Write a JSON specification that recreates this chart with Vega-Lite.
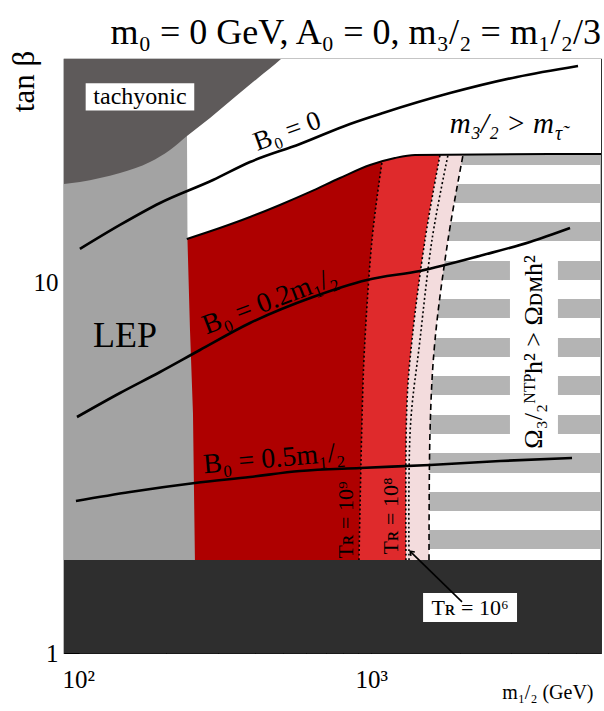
{
 "$schema": "https://vega.github.io/schema/vega-lite/v6.json",
 "width": 537, "height": 594,
 "autosize": "none",
 "padding": {"left": 64, "top": 59, "right": 3, "bottom": 58},
 "background": "white",
 "config": {"view": {"stroke": "#1a1a1a", "strokeWidth": 1.2}, "font": "Liberation Serif"},
 "title": {"text": "m₀ = 0 GeV, A₀ = 0, m₃/₂ = m₁/₂/3", "anchor": "end", "fontSize": 36, "font": "Liberation Serif", "fontWeight": "normal", "color": "black", "offset": -38, "baseline": "bottom"},
 "datasets": {
  "stripes": [
   {"x": 1300, "x2": 7000, "y": 1.910, "y2": 2.149},
   {"x": 1300, "x2": 7000, "y": 2.420, "y2": 2.723},
   {"x": 1300, "x2": 7000, "y": 3.065, "y2": 3.471},
   {"x": 1300, "x2": 2973, "y": 3.907, "y2": 4.398},
   {"x": 4335, "x2": 7000, "y": 3.907, "y2": 4.398},
   {"x": 1300, "x2": 2973, "y": 4.981, "y2": 5.607},
   {"x": 4335, "x2": 7000, "y": 4.981, "y2": 5.607},
   {"x": 1300, "x2": 2973, "y": 6.310, "y2": 7.102},
   {"x": 4335, "x2": 7000, "y": 6.310, "y2": 7.102},
   {"x": 1300, "x2": 2973, "y": 8.043, "y2": 9.053},
   {"x": 4335, "x2": 7000, "y": 8.043, "y2": 9.053},
   {"x": 1300, "x2": 2973, "y": 10.19, "y2": 11.47},
   {"x": 4335, "x2": 7000, "y": 10.19, "y2": 11.47},
   {"x": 1300, "x2": 7000, "y": 12.99, "y2": 14.62},
   {"x": 1300, "x2": 7000, "y": 16.45, "y2": 18.52},
   {"x": 1300, "x2": 7000, "y": 20.84, "y2": 23.60}
  ],
  "pink": [
   {"y": 1, "x": 80, "x2": 1574}, {"y": 1.784, "x": 80, "x2": 1574}, {"y": 3.932, "x": 80, "x2": 1586},
   {"y": 7.015, "x": 80, "x2": 1650}, {"y": 13.07, "x": 80, "x2": 1827}, {"y": 22.18, "x": 80, "x2": 2056}, {"y": 26, "x": 80, "x2": 2150}
  ],
  "medred": [
   {"y": 1, "x": 80, "x2": 1313}, {"y": 1.784, "x": 80, "x2": 1313}, {"y": 4.264, "x": 80, "x2": 1318},
   {"y": 7.015, "x": 80, "x2": 1377}, {"y": 13.07, "x": 80, "x2": 1525}, {"y": 22.18, "x": 80, "x2": 1716}, {"y": 26, "x": 80, "x2": 1800}
  ],
  "darkred": [
   {"y": 1, "x": 80, "x2": 907.8}, {"y": 1.784, "x": 80, "x2": 907.8}, {"y": 4.264, "x": 80, "x2": 929.4},
   {"y": 7.015, "x": 80, "x2": 951.2}, {"y": 13.07, "x": 80, "x2": 1005.5}, {"y": 21.23, "x": 80, "x2": 1087.7}, {"y": 26, "x": 80, "x2": 1130}
  ],
  "top": [
   {"x": 234.6, "y": 13.15}, {"x": 304, "y": 14.08}, {"x": 385.6, "y": 15.08}, {"x": 487.6, "y": 16.25},
   {"x": 617.9, "y": 17.62}, {"x": 781.9, "y": 19.22}, {"x": 990, "y": 20.84}, {"x": 1204, "y": 21.77},
   {"x": 1410, "y": 22.18}, {"x": 6100, "y": 22.32}
  ],
  "lep": [
   {"y": 1, "x": 80, "x2": 250.1}, {"y": 1.784, "x": 80, "x2": 250.1}, {"y": 4.455, "x": 80, "x2": 246.3},
   {"y": 7.464, "x": 80, "x2": 240.6}, {"y": 13.07, "x": 80, "x2": 235.9}, {"y": 24.97, "x": 80, "x2": 235}, {"y": 45, "x": 80, "x2": 235}
  ],
  "tachy": [
   {"x": 85, "y": 18.45}, {"x": 101.3, "y": 18.75}, {"x": 118.6, "y": 19.22}, {"x": 138.8, "y": 19.83},
   {"x": 175.7, "y": 21.23}, {"x": 205.6, "y": 22.88}, {"x": 235, "y": 24.97}, {"x": 281.6, "y": 27.92},
   {"x": 342.6, "y": 31.82}, {"x": 410.6, "y": 35.83}, {"x": 491.8, "y": 40.3}, {"x": 520, "y": 42}
  ],
  "dotted": [
   {"id": "9", "x": 907.8, "y": 1.784}, {"id": "9", "x": 929.4, "y": 4.264}, {"id": "9", "x": 951.2, "y": 7.015}, {"id": "9", "x": 1005.5, "y": 13.07}, {"id": "9", "x": 1087.7, "y": 21.23},
   {"id": "8", "x": 1313, "y": 1.784}, {"id": "8", "x": 1318, "y": 4.264}, {"id": "8", "x": 1377, "y": 7.015}, {"id": "8", "x": 1525, "y": 13.07}, {"id": "8", "x": 1716, "y": 22.18},
   {"id": "6", "x": 1345, "y": 1.784}, {"id": "6", "x": 1356, "y": 3.932}, {"id": "6", "x": 1466, "y": 7.015}, {"id": "6", "x": 1611, "y": 13.07}, {"id": "6", "x": 1827, "y": 22.18}
  ],
  "dashed": [
   {"x": 1574, "y": 1.784}, {"x": 1586, "y": 3.932}, {"x": 1650, "y": 7.015}, {"x": 1827, "y": 13.07}, {"x": 2056, "y": 22.18}
  ],
  "b0": [
   {"id": "a", "x": 101.3, "y": 12.36}, {"id": "a", "x": 138.8, "y": 14.35}, {"id": "a", "x": 190.1, "y": 16.45}, {"id": "a", "x": 288.3, "y": 18.98},
   {"id": "a", "x": 385.5, "y": 21.23}, {"id": "a", "x": 571, "y": 23.75}, {"id": "a", "x": 846, "y": 26.9}, {"id": "a", "x": 1096, "y": 28.8},
   {"id": "a", "x": 1856, "y": 32.6}, {"id": "a", "x": 3143, "y": 36.05}, {"id": "a", "x": 5075, "y": 38.6},
   {"id": "b", "x": 99.0, "y": 4.343}, {"id": "b", "x": 138.8, "y": 5.043}, {"id": "b", "x": 190.1, "y": 5.747}, {"id": "b", "x": 260.2, "y": 6.59},
   {"id": "b", "x": 385.5, "y": 7.795}, {"id": "b", "x": 632.4, "y": 9.166}, {"id": "b", "x": 967, "y": 10.19}, {"id": "b", "x": 1466, "y": 10.78},
   {"id": "b", "x": 2405, "y": 11.9}, {"id": "b", "x": 3480, "y": 12.91}, {"id": "b", "x": 4767, "y": 14.08},
   {"id": "c", "x": 98.2, "y": 2.575}, {"id": "c", "x": 150.2, "y": 2.723}, {"id": "c", "x": 250.1, "y": 2.88}, {"id": "c", "x": 385.5, "y": 2.99},
   {"id": "c", "x": 571, "y": 3.103}, {"id": "c", "x": 914.9, "y": 3.162}, {"id": "c", "x": 1586, "y": 3.222}, {"id": "c", "x": 2749, "y": 3.303}, {"id": "c", "x": 4842, "y": 3.365}
  ],
  "boxes": [
   {"x": 106, "x2": 248.8, "y": 29.23, "y2": 34.65},
   {"x": 1502, "x2": 3143, "y": 1.213, "y2": 1.453}
  ]
 },
 "encoding": {
  "x": {"field": "x", "type": "quantitative",
   "scale": {"type": "log", "domain": [89.4, 6080], "nice": false, "zero": false},
   "axis": {"values": [100, 200, 300, 400, 500, 600, 700, 800, 900, 1000, 2000, 3000, 4000, 5000],
    "labelExpr": "datum.value == 100 ? '10²' : datum.value == 1000 ? '10³' : ''",
    "tickSize": {"condition": {"test": "datum.value == 100 || datum.value == 1000", "value": -16}, "value": -8},
    "tickColor": "black", "tickWidth": 1, "domain": false, "grid": false,
    "labelFont": "Liberation Serif", "labelFontSize": 25, "labelColor": "black", "labelPadding": 30,
    "labelFlush": false, "labelOverlap": false, "labelBound": false,
    "title": "m₁/₂ (GeV)", "titleFont": "Liberation Serif", "titleFontSize": 20, "titleFontWeight": "normal", "titleColor": "black",
    "titleX": 529, "titleY": 45, "titleAlign": "right", "titleBaseline": "alphabetic", "titleAnchor": null}},
  "y": {"field": "y", "type": "quantitative",
   "scale": {"type": "log", "domain": [1, 40.3], "nice": false, "zero": false},
   "axis": {"values": [1, 2, 3, 4, 5, 6, 7, 8, 9, 10, 20, 30],
    "labelExpr": "datum.value == 1 ? '1' : datum.value == 10 ? '10' : ''",
    "tickSize": {"condition": {"test": "datum.value == 1 || datum.value == 10", "value": -15}, "value": -8},
    "tickColor": "black", "tickWidth": 1, "domain": false, "grid": false,
    "labelFont": "Liberation Serif", "labelFontSize": 25, "labelColor": "black", "labelPadding": 21,
    "labelFlush": false, "labelOverlap": false, "labelBound": false,
    "title": "tan β", "titleFont": "Liberation Serif", "titleFontSize": 31, "titleFontWeight": "normal", "titleColor": "black",
    "titleX": -31, "titleY": 22, "titleAngle": -90, "titleAlign": "center", "titleBaseline": "alphabetic"}}
 },
 "layer": [
  {"data": {"name": "stripes"}, "mark": {"type": "rect", "color": "#b4b4b4", "clip": true},
   "encoding": {"x2": {"field": "x2"}, "y2": {"field": "y2"}}},
  {"data": {"name": "pink"}, "mark": {"type": "area", "orient": "horizontal", "interpolate": "cardinal", "color": "#f3dcdd", "opacity": 1, "clip": true},
   "encoding": {"x2": {"field": "x2"}}},
  {"data": {"name": "medred"}, "mark": {"type": "area", "orient": "horizontal", "interpolate": "cardinal", "color": "#df2a2c", "opacity": 1, "clip": true},
   "encoding": {"x2": {"field": "x2"}}},
  {"data": {"name": "darkred"}, "mark": {"type": "area", "orient": "horizontal", "interpolate": "cardinal", "color": "#ae0000", "opacity": 1, "clip": true},
   "encoding": {"x2": {"field": "x2"}}},
  {"data": {"name": "top"}, "mark": {"type": "area", "orient": "vertical", "interpolate": "monotone", "color": "white", "opacity": 1, "clip": true},
   "encoding": {"y2": {"datum": 45}}},
  {"data": {"name": "lep"}, "mark": {"type": "area", "orient": "horizontal", "interpolate": "linear", "color": "#a3a3a3", "opacity": 1, "clip": true},
   "encoding": {"x2": {"field": "x2"}}},
  {"data": {"name": "tachy"}, "mark": {"type": "area", "orient": "vertical", "interpolate": "monotone", "color": "#5e5a5a", "opacity": 1, "clip": true},
   "encoding": {"y2": {"datum": 45}}},
  {"data": {"values": [{"x": 80, "x2": 7000, "y": 0.9, "y2": 1.784}]}, "mark": {"type": "rect", "color": "#2e2e2e", "clip": true},
   "encoding": {"x2": {"field": "x2"}, "y2": {"field": "y2"}}},
  {"data": {"name": "dotted"}, "mark": {"type": "line", "interpolate": "cardinal", "strokeDash": [2, 2.5], "strokeWidth": 1.6, "color": "black", "clip": true},
   "encoding": {"detail": {"field": "id"}, "order": {"field": "y"}}},
  {"data": {"name": "dashed"}, "mark": {"type": "line", "interpolate": "cardinal", "strokeDash": [6, 4], "strokeWidth": 1.6, "color": "black", "clip": true},
   "encoding": {"order": {"field": "y"}}},
  {"data": {"name": "top"}, "mark": {"type": "line", "interpolate": "monotone", "strokeWidth": 2, "color": "black", "clip": true}, "encoding": {}},
  {"data": {"name": "b0"}, "mark": {"type": "line", "interpolate": "monotone", "strokeWidth": 2.6, "color": "black", "clip": true},
   "encoding": {"detail": {"field": "id"}}},
  {"data": {"name": "boxes"}, "mark": {"type": "rect", "color": "white", "clip": true},
   "encoding": {"x2": {"field": "x2"}, "y2": {"field": "y2"}}},
  {"data": {"values": [{"x": 2040, "y": 1.374, "x2": 1360, "y2": 1.88}]}, "mark": {"type": "rule", "strokeWidth": 1.6, "color": "black"},
   "encoding": {"x2": {"field": "x2"}, "y2": {"field": "y2"}}},
  {"data": {"values": [{"x": 1357, "y": 1.884}]}, "mark": {"type": "point", "shape": "M -0.7 1 L 0 0 L 0.7 1", "filled": false, "stroke": "black", "strokeWidth": 1.6, "size": 60, "angle": -45, "opacity": 1}},
  {"data": {"values": [{"x": 162.4, "y": 31.82, "t": "tachyonic"}]}, "mark": {"type": "text", "fontSize": 24, "font": "Liberation Serif", "align": "center", "baseline": "middle", "color": "black"},
   "encoding": {"text": {"field": "t"}}},
  {"data": {"values": [{"x": 144.3, "y": 6.714, "t": "LEP"}]}, "mark": {"type": "text", "fontSize": 36, "font": "Liberation Serif", "align": "center", "baseline": "alphabetic", "color": "black"},
   "encoding": {"text": {"field": "t"}}},
  {"data": {"values": [{"x": 527.9, "y": 24.5, "t": "B₀ = 0"}]}, "mark": {"type": "text", "fontSize": 27, "font": "Liberation Serif", "align": "center", "baseline": "alphabetic", "angle": -20, "color": "black"},
   "encoding": {"text": {"field": "t"}}},
  {"data": {"values": [{"x": 461.7, "y": 8.507, "t": "B₀ = 0.2m₁/₂"}]}, "mark": {"type": "text", "fontSize": 28, "font": "Liberation Serif", "align": "center", "baseline": "alphabetic", "angle": -21, "color": "black"},
   "encoding": {"text": {"field": "t"}}},
  {"data": {"values": [{"x": 469, "y": 3.182, "t": "B₀ = 0.5m₁/₂"}]}, "mark": {"type": "text", "fontSize": 28, "font": "Liberation Serif", "align": "center", "baseline": "alphabetic", "angle": -5, "color": "black"},
   "encoding": {"text": {"field": "t"}}},
  {"data": {"values": [{"x": 4200, "y": 25.43, "t": "m₃/₂ > m"}]}, "mark": {"type": "text", "fontSize": 29, "font": "Liberation Serif", "fontStyle": "italic", "align": "right", "baseline": "alphabetic", "color": "black"},
   "encoding": {"text": {"field": "t"}}},
  {"data": {"values": [{"x": 4200, "y": 25.43, "t": "τ̃"}]}, "mark": {"type": "text", "fontSize": 20, "font": "Liberation Serif", "fontStyle": "italic", "align": "left", "baseline": "alphabetic", "dx": 1, "dy": 7, "color": "black"},
   "encoding": {"text": {"field": "t"}}},
  {"data": {"values": [{"x": 3825, "y": 6.51, "t": "Ω₃/₂ᴺᵀᴾh² > Ωᴅᴍh²"}]}, "mark": {"type": "text", "fontSize": 26, "font": "Liberation Serif", "align": "center", "baseline": "alphabetic", "angle": -90, "color": "black"},
   "encoding": {"text": {"field": "t"}}},
  {"data": {"values": [{"x": 866, "y": 2.288, "t": "Tʀ = 10⁹"}, {"x": 1233, "y": 2.346, "t": "Tʀ = 10⁸"}]}, "mark": {"type": "text", "fontSize": 22, "font": "Liberation Serif", "align": "center", "baseline": "alphabetic", "angle": -90, "color": "black"},
   "encoding": {"text": {"field": "t"}}},
  {"data": {"values": [{"x": 2173, "y": 1.327, "t": "Tʀ = 10⁶"}]}, "mark": {"type": "text", "fontSize": 22, "font": "Liberation Serif", "align": "center", "baseline": "middle", "color": "black"},
   "encoding": {"text": {"field": "t"}}}
 ]
}
